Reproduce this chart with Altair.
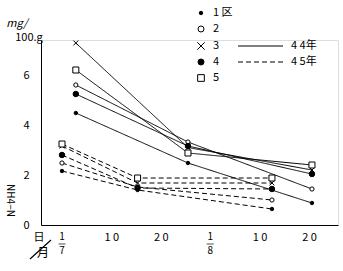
import altair as alt
import pandas as pd

# ---- data ----
series = ["1 区", "2", "3", "4", "5"]
years = ["4 4年", "4 5年"]
days_44 = [2.8, 25.5, 50.6]     # days after 1 July
days_45 = [0.0, 15.3, 42.5]
s1_44 = [4.48, 2.48, 0.88]
s2_44 = [5.6, 3.32, 1.44]
s3_44 = [7.28, 3.1, 2.2]
s4_44 = [5.24, 3.16, 2.04]
s5_44 = [6.2, 2.88, 2.4]
s1_45 = [2.16, 1.4, 0.64]
s2_45 = [2.48, 1.52, 1.0]
s3_45 = [3.16, 1.68, 1.68]
s4_45 = [2.8, 1.48, 1.44]
s5_45 = [3.24, 1.88, 1.88]
y_ticks = [0, 2, 4, 6]
x_tick_vals = [10, 20, 40, 50]
x_tick_labels = ["1 0", "2 0", "1 0", "2 0"]
frac_vals = [0, 30]
frac_num = ["1", "1"]
frac_den = ["7", "8"]

rows = []
for yr, days, vals in [
    (years[0], days_44, [s1_44, s2_44, s3_44, s4_44, s5_44]),
    (years[1], days_45, [s1_45, s2_45, s3_45, s4_45, s5_45]),
]:
    for s, v in zip(series, vals):
        for d, val in zip(days, v):
            rows.append({"day": d, "value": val, "series": s, "year": yr})
df = pd.DataFrame(rows)

FONT = "Noto Sans CJK JP"
X_PATH = "M-1,-1L1,1M-1,1L1,-1"
shapes = ["circle", "circle", X_PATH, "circle", "square"]
fills = ["black", "white", "white", "black", "white"]
sizes = [12, 36, 55, 36, 45]
dashes = [[1, 0], [5, 3]]

xscale = alt.Scale(domain=[-4.25, 55.87], nice=False, zero=False)
yscale = alt.Scale(domain=[0, 7.4], nice=False, zero=False)

label_expr = ""
for v, l in zip(x_tick_vals, x_tick_labels):
    label_expr += f"datum.value == {v} ? '{l}' : "
label_expr += "''"

x_enc = alt.X("day:Q", scale=xscale,
              axis=alt.Axis(values=x_tick_vals, labelExpr=label_expr, title=None,
                            ticks=False, grid=False, labelPadding=6,
                            labelFontSize=11, labelFont=FONT, labelColor="black",
                            domainColor="black", labelFlush=False))
y_enc = alt.Y("value:Q", scale=yscale,
              axis=alt.Axis(values=y_ticks, title="NH4−N", titleAngle=90,
                            titleX=-32, titleY=160, titleAlign="center",
                            titleBaseline="middle", titleFontSize=10,
                            titleFontWeight="normal", titleFont=FONT,
                            ticks=False, grid=False, labelPadding=12,
                            labelFontSize=11, labelFont=FONT, labelColor="black",
                            domainColor="black"))

lines = alt.Chart(df).mark_line(color="black", strokeWidth=1).encode(
    x=x_enc, y=y_enc, detail="series:N",
    strokeDash=alt.StrokeDash("year:N", scale=alt.Scale(domain=years, range=dashes),
                              legend=None),
)

points = alt.Chart(df).mark_point(stroke="black", strokeWidth=1, opacity=1,
                                  fillOpacity=1).encode(
    x="day:Q", y="value:Q",
    shape=alt.Shape("series:N", scale=alt.Scale(domain=series, range=shapes), legend=None),
    fill=alt.Fill("series:N", scale=alt.Scale(domain=series, range=fills), legend=None),
    size=alt.Size("series:N", scale=alt.Scale(domain=series, range=sizes), legend=None),
)

frac_df = pd.DataFrame({"day": frac_vals, "num": frac_num, "den": frac_den})
frac_num_t = alt.Chart(frac_df).mark_text(font=FONT, fontSize=10, color="black").encode(
    x="day:Q", y=alt.value(197), text="num:N")
frac_den_t = alt.Chart(frac_df).mark_text(font=FONT, fontSize=10, color="black").encode(
    x="day:Q", y=alt.value(211), text="den:N")
frac_bar = alt.Chart(frac_df).mark_tick(orient="horizontal", color="black",
                                        size=7, thickness=1).encode(
    x="day:Q", y=alt.value(204))

one = alt.Data(values=[{}])
def txt(t, x, y, size=11, align="center", **kw):
    return alt.Chart(one).mark_text(text=t, font=FONT, fontSize=size, align=align,
                                    color="black", **kw).encode(
        x=alt.value(x), y=alt.value(y))

# ---- legend (drawn by hand, positions relative to plot area) ----
legend_layers = []
row_y = [-27, -11, 6, 22, 38]
for i, s in enumerate(series):
    legend_layers.append(
        alt.Chart(one).mark_point(shape=shapes[i], size=sizes[i], fill=fills[i],
                                  stroke="black", strokeWidth=1, opacity=1,
                                  fillOpacity=1).encode(
            x=alt.value(160), y=alt.value(row_y[i])))
    legend_layers.append(txt(s, 172, row_y[i], 11, align="left"))
for j, yr in enumerate(years):
    legend_layers.append(
        alt.Chart(one).mark_rule(color="black", strokeWidth=1,
                                 strokeDash=dashes[j]).encode(
            x=alt.value(197), x2=alt.value(242),
            y=alt.value(row_y[2 + j])))
    legend_layers.append(txt(yr, 250, row_y[2 + j], 11, align="left"))

unit1 = txt("mg/", -24, -16, 11, fontStyle="italic")
unit2 = txt("100.g", -12, -2, 11)
day_lbl = txt("日", -2, 198, 11)
mon_lbl = txt("月", 2, 213, 12)
slash = alt.Chart(one).mark_rule(color="black", strokeWidth=1.2).encode(
    x=alt.value(-11), x2=alt.value(10), y=alt.value(219), y2=alt.value(200))

chart = alt.layer(
    lines, points, frac_num_t, frac_den_t, frac_bar,
    unit1, unit2, day_lbl, mon_lbl, slash, *legend_layers
).properties(
    width=297, height=185,
    autosize=alt.AutoSizeParams(type="none"),
    padding={"left": 41, "top": 40, "right": 5, "bottom": 46},
).configure_view(stroke=None).configure(background="white")

chart.save("out.html", embed_options={"renderer": "svg", "actions": False})
